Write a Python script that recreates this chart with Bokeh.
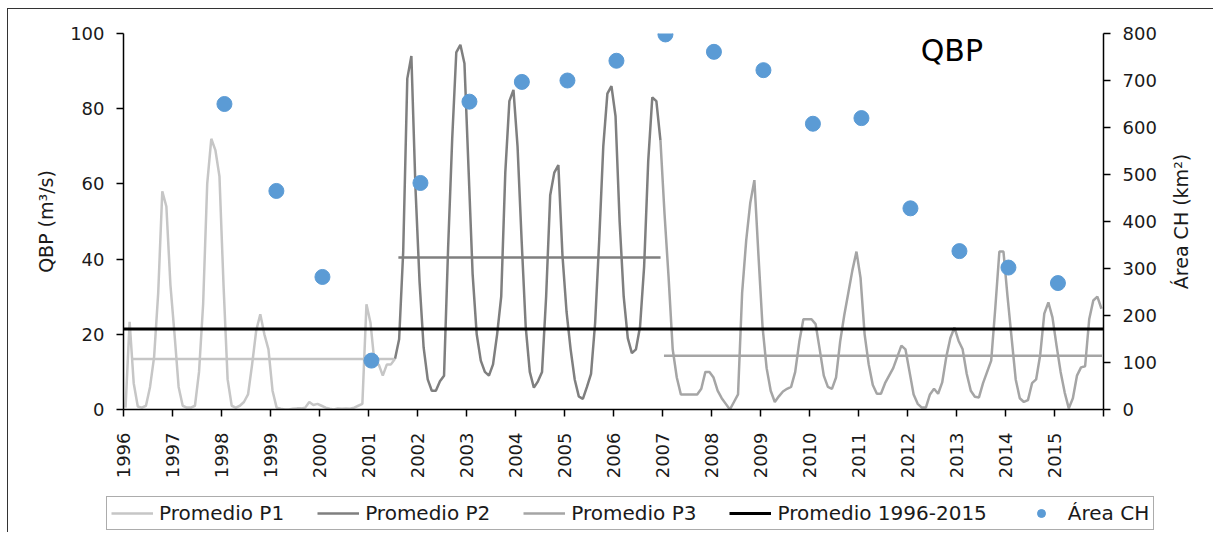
import math
from bokeh.plotting import figure
from bokeh.layouts import column, row
from bokeh.models import Range1d, LinearAxis, FixedTicker, Legend, LegendItem, Label
from bokeh.embed import file_html
from bokeh.resources import INLINE

# ---------------- data (monthly QBP, m3/s) ----------------
# month index 0 = January 1996
p1_start = 0
p1_vals = [0.5, 23.3, 7, 0.8, 0.5, 1, 6, 14, 31, 58, 54, 33,          # 1996
           20, 6, 1, 0.5, 0.5, 1, 10, 28, 60, 72, 69, 62,              # 1997
           33, 8, 1, 0.5, 1, 2, 4, 12, 21, 25.3, 20, 16,               # 1998
           5, 0.5, 0.2, 0, 0, 0.2, 0.3, 0.3, 0.5, 2, 1.2, 1.5,         # 1999
           1, 0.5, 0.2, 0, 0.3, 0.2, 0.3, 0.2, 0.5, 1, 1.5, 28,        # 2000
           23, 12, 12, 9, 12, 12, 13.5]                                # 2001 (Jan-Jul)

p2_start = 66
p2_vals = [13.5, 18.7, 42, 88, 94, 59,                                 # 2001 (Jul-Dec)
           34, 16.5, 8, 5, 5, 7.5, 9, 43, 72, 95, 97, 92,              # 2002
           64, 36, 20, 13, 10, 9, 12, 20, 30, 63, 82, 85,              # 2003
           70, 45, 22, 10, 5.8, 7.5, 10, 30, 57, 63, 65, 41,           # 2004
           26, 16, 8, 3.5, 2.8, 6, 9.5, 23, 45, 70, 84, 86,            # 2005
           78, 50, 30, 19, 15, 16, 22, 38, 66, 83, 82, 71.5]           # 2006

p3_start = 131
p3_vals = [71.5,                                                       # Dec 2006
           52, 35, 16, 8.5, 4, 4, 4, 4, 4, 5.5, 10, 10,                # 2007
           8.5, 5, 3, 1.5, 0, 2, 4, 31, 45, 55, 61, 41,                # 2008
           22, 11, 5, 2, 3.5, 4.8, 5.5, 6, 10, 18, 24, 24,             # 2009
           24, 22.7, 16, 9, 6, 5.5, 8.5, 18, 25, 31, 37, 42,           # 2010
           35, 20, 12, 6.5, 4.2, 4.2, 7, 9, 11, 14, 17, 16,            # 2011
           10, 4, 1.5, 0.5, 0.5, 4, 5.5, 4.2, 7.2, 14, 19, 21.8,       # 2012
           18.3, 16, 9.5, 5, 3.4, 3.2, 7, 10, 13, 27, 42, 42,          # 2013
           30, 19, 8, 3, 2, 2.5, 7, 8, 14.5, 25.5, 28.5, 24.5,         # 2014
           17, 10, 4.5, 0.3, 3, 9, 11.2, 11.5, 24, 29, 30, 26.8]       # 2015

# period averages (m3/s) and the span of each period (decimal years)
avg_names = ["Promedio P1", "Promedio P2", "Promedio P3", "Promedio 1996-2015"]
avg_vals = [13.4, 40.4, 14.3, 21.4]
avg_from = [1996.18, 2001.61, 2007.03, 1996.0]
avg_to = [2001.53, 2006.96, 2015.97, 2016.0]

# lake area (km2)
area_dates = [1998.06, 1999.12, 2000.06, 2001.06, 2002.06, 2003.06, 2004.13, 2005.06, 2006.06,
              2007.06, 2008.05, 2009.06, 2010.07, 2011.06, 2012.06, 2013.06, 2014.06, 2015.07]
area_vals = [650, 465, 282, 104, 482, 655, 697, 700, 742,
             798, 761, 722, 608, 620, 428, 337, 302, 269]

years = list(range(1996, 2017))
left_ticks = [0, 20, 40, 60, 80, 100]
right_ticks = [0, 100, 200, 300, 400, 500, 600, 700, 800]


def month_x(start, n):
    return [1996 + (start + i + 0.5) / 12.0 for i in range(n)]


FONT = "DejaVu Sans"
C_P1 = "#c6c6c6"
C_P2 = "#7f7f7f"
C_P3 = "#a5a5a5"
C_ALL = "#000000"
C_AREA = "#5b9bd5"
W_SERIES = 2.5
W_ALL = 3

# ---------------- main chart ----------------
p = figure(width=1160, height=479, x_range=Range1d(1996, 2016), y_range=Range1d(0, 100),
           output_backend="svg", toolbar_location=None,
           min_border_left=115, min_border_right=65, min_border_top=24, min_border_bottom=79)
p.extra_y_ranges = {"area": Range1d(0, 800)}
p.outline_line_color = None
p.xgrid.grid_line_color = None
p.ygrid.grid_line_color = None
p.background_fill_color = "white"
p.border_fill_color = "white"

p.line(month_x(p1_start, len(p1_vals)), p1_vals, line_color=C_P1, line_width=W_SERIES)
p.line(month_x(p2_start, len(p2_vals)), p2_vals, line_color=C_P2, line_width=W_SERIES)
p.line(month_x(p3_start, len(p3_vals)), p3_vals, line_color=C_P3, line_width=W_SERIES)

avg_colors = [C_P1, C_P2, C_P3, C_ALL]
avg_widths = [W_SERIES, W_SERIES, W_SERIES, W_ALL]
for v, a, b, c, w in zip(avg_vals, avg_from, avg_to, avg_colors, avg_widths):
    p.line([a, b], [v, v], line_color=c, line_width=w)

p.scatter(area_dates, area_vals, y_range_name="area", size=15,
          fill_color=C_AREA, line_color=C_AREA)


def style_axis(ax):
    ax.axis_line_color = "black"
    ax.axis_line_width = 1.5
    ax.major_tick_line_color = "black"
    ax.major_tick_line_width = 1.5
    ax.major_tick_out = 7
    ax.major_tick_in = 0
    ax.minor_tick_line_color = None
    ax.major_label_text_font = FONT
    ax.major_label_text_font_size = "18px"
    ax.major_label_text_color = "#1a1a1a"
    ax.axis_label_text_font = FONT
    ax.axis_label_text_font_size = "19px"
    ax.axis_label_text_font_style = "normal"
    ax.axis_label_text_color = "#1a1a1a"


xa = p.xaxis[0]
style_axis(xa)
xa.ticker = FixedTicker(ticks=years)
xa.major_label_overrides = {2016: ""}
xa.major_label_orientation = math.pi / 2
xa.major_label_standoff = 16

ya = p.yaxis[0]
style_axis(ya)
ya.ticker = FixedTicker(ticks=left_ticks)
ya.axis_label = "QBP (m³/s)"
ya.major_label_standoff = 12
ya.axis_label_standoff = 10

ra = LinearAxis(y_range_name="area", ticker=FixedTicker(ticks=right_ticks))
style_axis(ra)
ra.major_label_standoff = 12
p.add_layout(ra, "right")

p.add_layout(Label(x=2012.27, y=95.5, text="QBP", text_font=FONT, text_font_size="30px",
                   text_baseline="middle", text_align="left", text_color="black"))

# ---------------- right-axis title strip (reads bottom-to-top) ----------------
tf = figure(width=45, height=479, x_range=Range1d(0, 1), y_range=Range1d(0, 1),
            output_backend="svg", toolbar_location=None, x_axis_type=None, y_axis_type=None,
            min_border_left=0, min_border_right=0, min_border_top=24, min_border_bottom=79)
tf.outline_line_color = None
tf.xgrid.grid_line_color = None
tf.ygrid.grid_line_color = None
tf.add_layout(Label(x=0.27, y=0.5, text="Área CH (km²)", text_font=FONT,
                    text_font_size="19px", text_color="#1a1a1a", angle=math.pi / 2,
                    text_align="center", text_baseline="middle"))

# ---------------- legend strip ----------------
lg = figure(width=1206, height=44, x_range=Range1d(0, 1), y_range=Range1d(0, 1),
            output_backend="svg", toolbar_location=None, x_axis_type=None, y_axis_type=None,
            min_border_left=0, min_border_right=0, min_border_top=0, min_border_bottom=0)
lg.outline_line_color = None
lg.xgrid.grid_line_color = None
lg.ygrid.grid_line_color = None
nan = [float("nan")]
k1 = lg.line(nan, nan, line_color=C_P1, line_width=W_SERIES)
k2 = lg.line(nan, nan, line_color=C_P2, line_width=W_SERIES)
k3 = lg.line(nan, nan, line_color=C_P3, line_width=W_SERIES)
k4 = lg.line(nan, nan, line_color=C_ALL, line_width=W_ALL)
k5 = lg.scatter(nan, nan, size=15, fill_color=C_AREA, line_color=C_AREA)

legend = Legend(items=[
    LegendItem(label=avg_names[0], renderers=[k1]),
    LegendItem(label=avg_names[1], renderers=[k2]),
    LegendItem(label=avg_names[2], renderers=[k3]),
    LegendItem(label=avg_names[3], renderers=[k4]),
    LegendItem(label="Área CH", renderers=[k5]),
], orientation="horizontal", location=(98, 2))
legend.label_text_font = FONT
legend.label_text_font_size = "20px"
legend.label_text_color = "#1a1a1a"
legend.glyph_width = 42
legend.glyph_height = 20
legend.label_standoff = 6
legend.spacing = 33
legend.padding = 4
legend.margin = 0
legend.border_line_color = "#595959"
legend.border_line_width = 1.5
legend.background_fill_color = "white"
legend.background_fill_alpha = 1
lg.add_layout(legend)

top = row(p, tf, spacing=0)
top.styles = {"margin-left": "7px", "margin-top": "8px",
              "border-top": "1px solid #333333", "border-left": "1px solid #333333"}
bottom = column(lg)
bottom.styles = {"margin-left": "7px", "border-left": "1px solid #333333"}

open("out.html", "w").write(file_html([top, bottom], INLINE))
